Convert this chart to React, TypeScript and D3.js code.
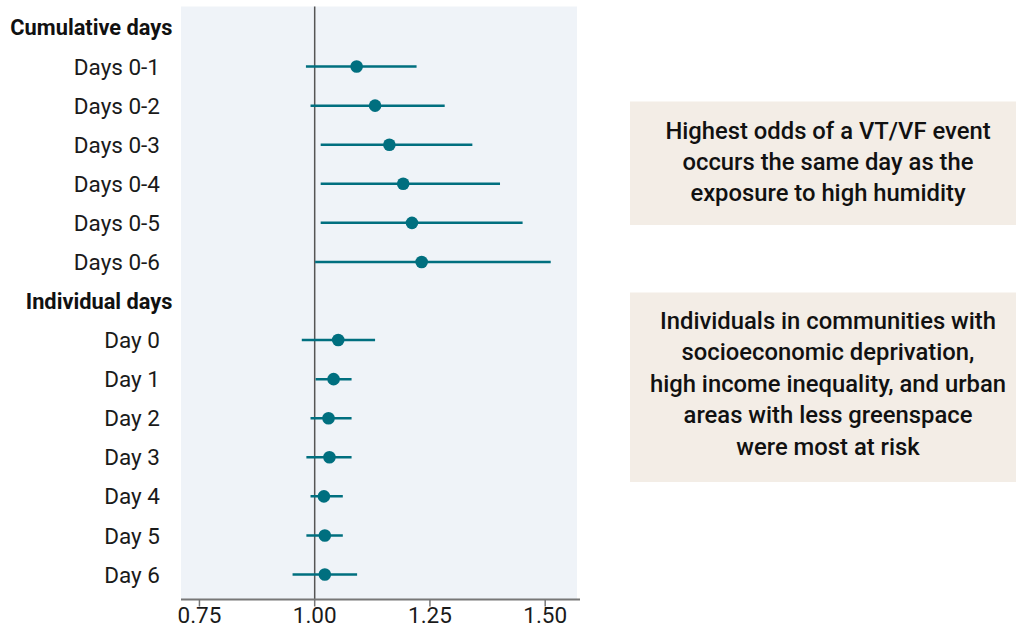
import React from "react";
import * as d3 from "d3";

const labels = ["Days 0-1", "Days 0-2", "Days 0-3", "Days 0-4", "Days 0-5", "Days 0-6",
  "Day 0", "Day 1", "Day 2", "Day 3", "Day 4", "Day 5", "Day 6"];
const estimates = [1.091, 1.131, 1.162, 1.192, 1.211, 1.232, 1.051, 1.041, 1.030, 1.032, 1.020, 1.022, 1.022];
const lower = [0.981, 0.991, 1.013, 1.013, 1.013, 1.001, 0.972, 1.002, 0.991, 0.982, 0.991, 0.982, 0.952];
const upper = [1.221, 1.282, 1.342, 1.402, 1.451, 1.512, 1.131, 1.080, 1.080, 1.080, 1.061, 1.061, 1.092];
const headers = ["Cumulative days", "Individual days"];
const xTicks = [0.75, 1.0, 1.25, 1.5];
const box1Lines = ["Highest odds of a VT/VF event", "occurs the same day as the", "exposure to high humidity"];
const box2Lines = ["Individuals in communities with", "socioeconomic deprivation,", "high income inequality, and urban", "areas with less greenspace", "were most at risk"];

const W = 1016, H = 629;
const FONT = "Roboto, 'Noto Sans', sans-serif";
const TEAL = "#006f7f";

export default function App() {
  const x = d3.scaleLinear().domain([0.71, 1.569]).range([181, 577]);
  const rowKeys: string[] = [];
  rowKeys.push("h0");
  labels.forEach((l, i) => {
    if (i === 6) rowKeys.push("h1");
    rowKeys.push("r" + i);
  });
  const y = d3.scalePoint<string>().domain(rowKeys).range([27.5, 574.5]);
  const axisY = 599.5;

  return (
    <svg width={W} height={H} style={{ position: "absolute", left: 0, top: 0, background: "#fff" }} fontFamily={FONT}>
      <rect x={181} y={6.5} width={396} height={axisY - 6.5} fill="#eff3f8" />
      <line x1={x(1)} x2={x(1)} y1={6.5} y2={axisY} stroke="#555" strokeWidth={1.5} />
      {labels.map((l, i) => {
        const yy = y("r" + i)!;
        return (
          <g key={l}>
            <line x1={x(lower[i])} x2={x(upper[i])} y1={yy} y2={yy} stroke={TEAL} strokeWidth={2.5} />
            <circle cx={x(estimates[i])} cy={yy} r={6.3} fill={TEAL} />
            <text x={160} y={yy} dy="0.36em" textAnchor="end" fontSize={22.5} fill="#1a1a1a">{l}</text>
          </g>
        );
      })}
      {headers.map((h, i) => (
        <text key={h} x={172.5} y={y("h" + i)!} dy="0.36em" textAnchor="end" fontSize={21.8} fontWeight="bold" fill="#111">{h}</text>
      ))}
      <line x1={181} x2={580} y1={axisY} y2={axisY} stroke="#777" strokeWidth={2} />
      {xTicks.map((t) => (
        <g key={t} transform={`translate(${x(t)},${axisY})`}>
          <line y1={0} y2={7} stroke="#777" strokeWidth={1.5} />
          <text y={23} textAnchor="middle" fontSize={22.5} fill="#1a1a1a">{d3.format(".2f")(t)}</text>
        </g>
      ))}
      <rect x={630} y={101.5} width={386} height={123.5} fill="#f3ede6" />
      {box1Lines.map((s, i) => (
        <text key={s} x={828} y={130 + i * 31} dy="0.36em" textAnchor="middle" fontSize={23.8} fontWeight={500} fill="#111">{s}</text>
      ))}
      <rect x={630} y={292.5} width={386} height={189.5} fill="#f3ede6" />
      {box2Lines.map((s, i) => (
        <text key={s} x={828} y={320 + i * 31.5} dy="0.36em" textAnchor="middle" fontSize={23.8} fontWeight={500} fill="#111">{s}</text>
      ))}
    </svg>
  );
}
